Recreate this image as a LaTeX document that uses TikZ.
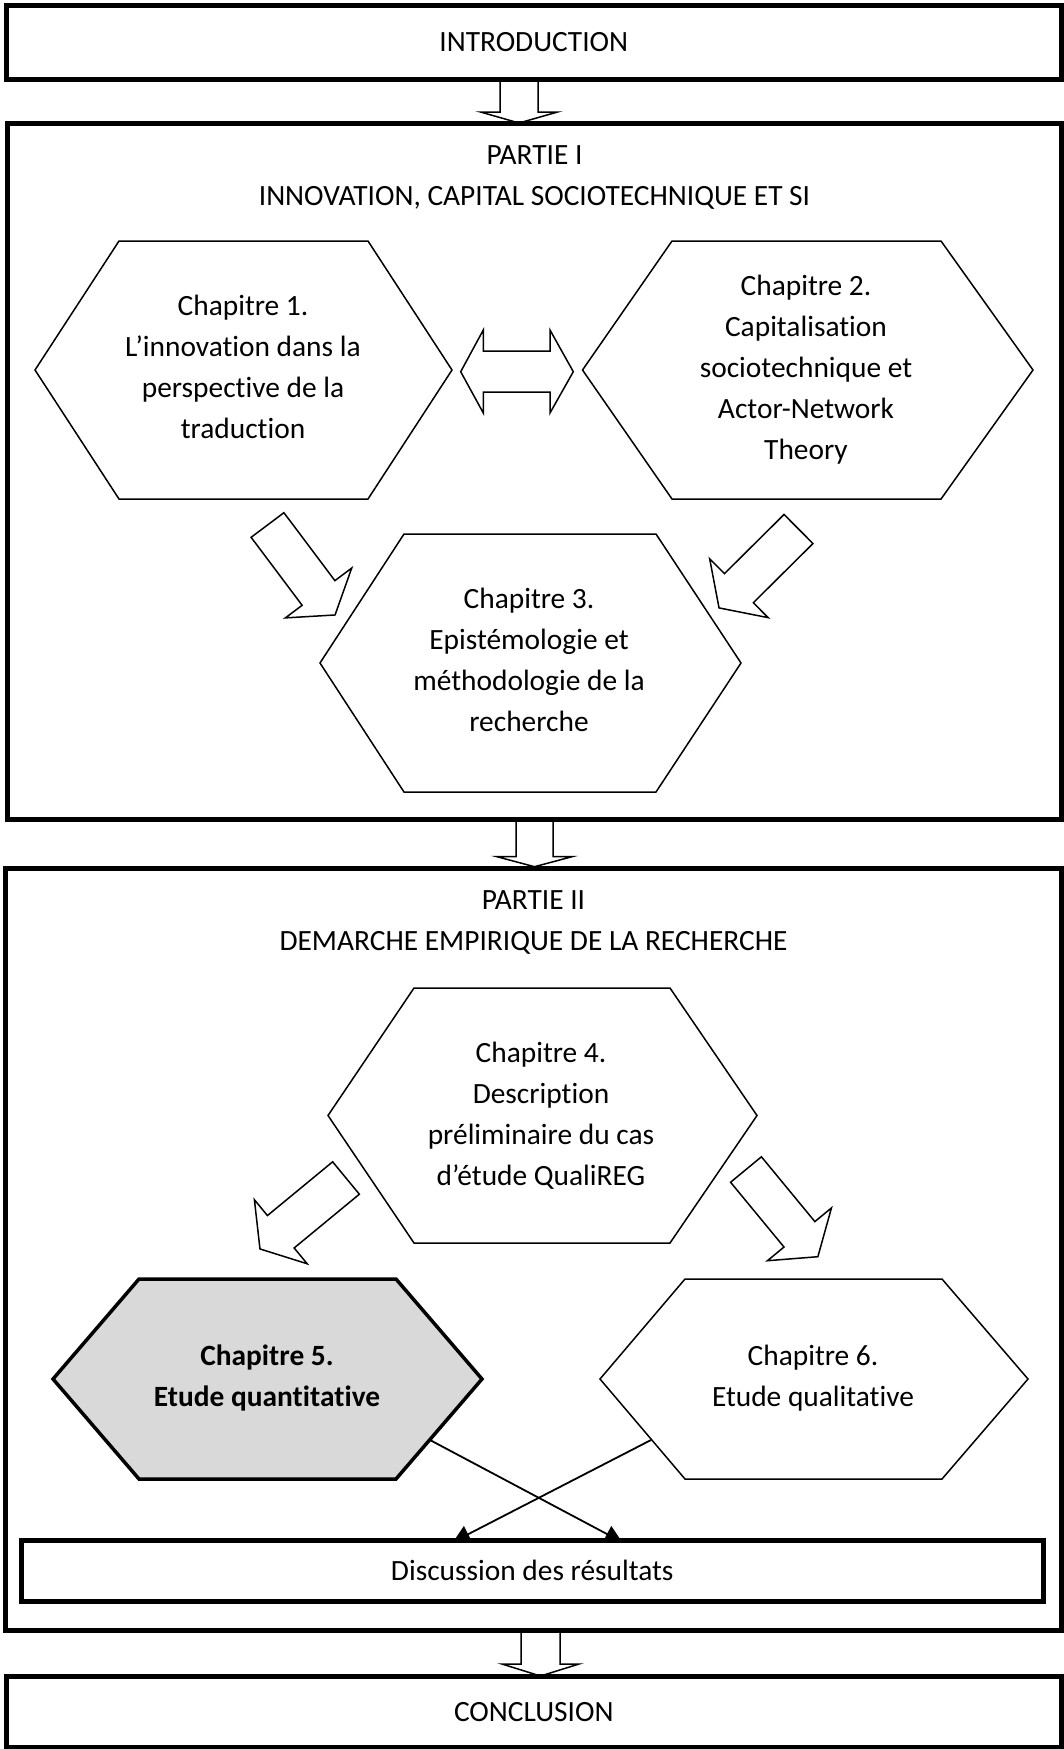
\documentclass[tikz,border=0pt]{standalone}
\usepackage{fontspec}
\setmainfont{Carlito}[Ligatures=NoCommon]
\usepackage{xcolor}
\usepackage{tikz}
\usetikzlibrary{arrows.meta}

\definecolor{chapgray}{HTML}{D9D9D9}

\tikzset{
  part/.style={draw, line width=5pt},
  hexa/.style={draw, line width=1.5pt, line join=miter},
  chap/.style={align=center, inner sep=0pt},
  barrow/.style={draw, line width=1.5pt, line join=miter},
  link/.style={line width=1.8pt, -{Triangle[length=17pt,width=18pt]}}
}

\newcommand{\blockarrow}[6]{%
  \begin{scope}[shift={#1},rotate=#2]
    \draw[barrow] (0,-#5) -- (#3,-#5) -- (#3,-#6) -- (#3+#4,0)
      -- (#3,#6) -- (#3,#5) -- (0,#5) -- cycle;
  \end{scope}}

\begin{document}
\begin{tikzpicture}[x=1pt,y=-1pt,font=\fontsize{29.4}{41}\selectfont]
    \useasboundingbox (0,0) rectangle (1064,1749);

    \node[part, minimum width=1055.5pt, minimum height=73.5pt] (intro) at (533.75,42.25) {INTRODUCTION};
    \blockarrow{(519,79)}{-90}{33}{11}{19}{38.5}

    \draw[part] (7,123.3) rectangle (1061.5,819);
    \node[chap] (p1title) at (534.5,178) {PARTIE I\\INNOVATION, CAPITAL SOCIOTECHNIQUE ET SI};

    \draw[hexa] (119,241) -- (368,241) -- (452,370) -- (368,499) -- (119,499) -- (35,370) -- cycle;
    \node[chap] (ch1) at (243,367) {Chapitre 1.\\L’innovation dans la\\perspective de la\\traduction};
    \draw[hexa] (672,241) -- (941,241) -- (1033,370) -- (941,499) -- (672,499) -- (582.5,370) -- cycle;
    \node[chap] (ch2) at (806,369.5) {Chapitre 2.\\Capitalisation\\sociotechnique et\\Actor-Network\\Theory};
    \draw[barrow] (460.7,371.7) -- (483.3,330) -- (483.3,351) -- (550,351) -- (550,330) -- (573.3,371.7)
      -- (550,413) -- (550,392) -- (483.3,392) -- (483.3,413) -- cycle;

    \blockarrow{(267.5,525)}{-53.1}{85}{27.5}{20.5}{41.5}
    \blockarrow{(798.5,529)}{-135.2}{84}{28}{20.5}{41.5}
    \draw[hexa] (404,534) -- (656,534) -- (741,663) -- (656,792) -- (404,792) -- (320,663) -- cycle;
    \node[chap] (ch3) at (529,660) {Chapitre 3.\\Epistémologie et\\méthodologie de la\\recherche};

    \blockarrow{(534.5,819)}{-90}{37.7}{10}{18.5}{37.5}

    \draw[part] (5.5,868.7) rectangle (1061.5,1630);
    \node[chap] (p2title) at (533.5,922.5) {PARTIE II\\DEMARCHE EMPIRIQUE DE LA RECHERCHE};

    \draw[hexa] (414,988) -- (670,988) -- (757,1115.5) -- (670,1243) -- (414,1243) -- (328,1115.5) -- cycle;
    \node[chap] (ch4) at (541,1115.5) {Chapitre 4.\\Description\\préliminaire du cas\\d’étude QualiREG};
    \blockarrow{(346,1178)}{-140.5}{84.5}{27}{21}{41.5}
    \blockarrow{(746,1169.5)}{-50.5}{84}{29}{20}{41.5}

    \draw[hexa, line width=3.5pt, fill=chapgray] (139,1279) -- (396,1279) -- (482,1379) -- (396,1479) -- (139,1479) -- (53,1379) -- cycle;
    \node[chap, font=\fontsize{29.4}{41}\selectfont\bfseries] (ch5) at (267,1377.5) {Chapitre 5.\\Etude quantitative};
    \draw[hexa] (685,1279) -- (942,1279) -- (1028,1379) -- (942,1479) -- (685,1479) -- (600,1379) -- cycle;
    \node[chap] (ch6) at (813,1378.5) {Chapitre 6.\\Etude qualitative};

    \coordinate (c5) at (430,1440);
    \coordinate (c6) at (651,1440);
    \coordinate (d5) at (622,1542);
    \coordinate (d6) at (453,1542);
    \draw[link] (c5) -- (d5);
    \draw[link] (c6) -- (d6);
    \node[part, fill=white, minimum width=1022.5pt, minimum height=60.5pt] (disc) at (532.25,1570.75) {Discussion des résultats};

    \blockarrow{(540.5,1630)}{-90}{34}{12}{19.5}{38.5}
    \node[part, minimum width=1055.5pt, minimum height=70.5pt] (concl) at (533.75,1711.75) {CONCLUSION};
\end{tikzpicture}
\end{document}
